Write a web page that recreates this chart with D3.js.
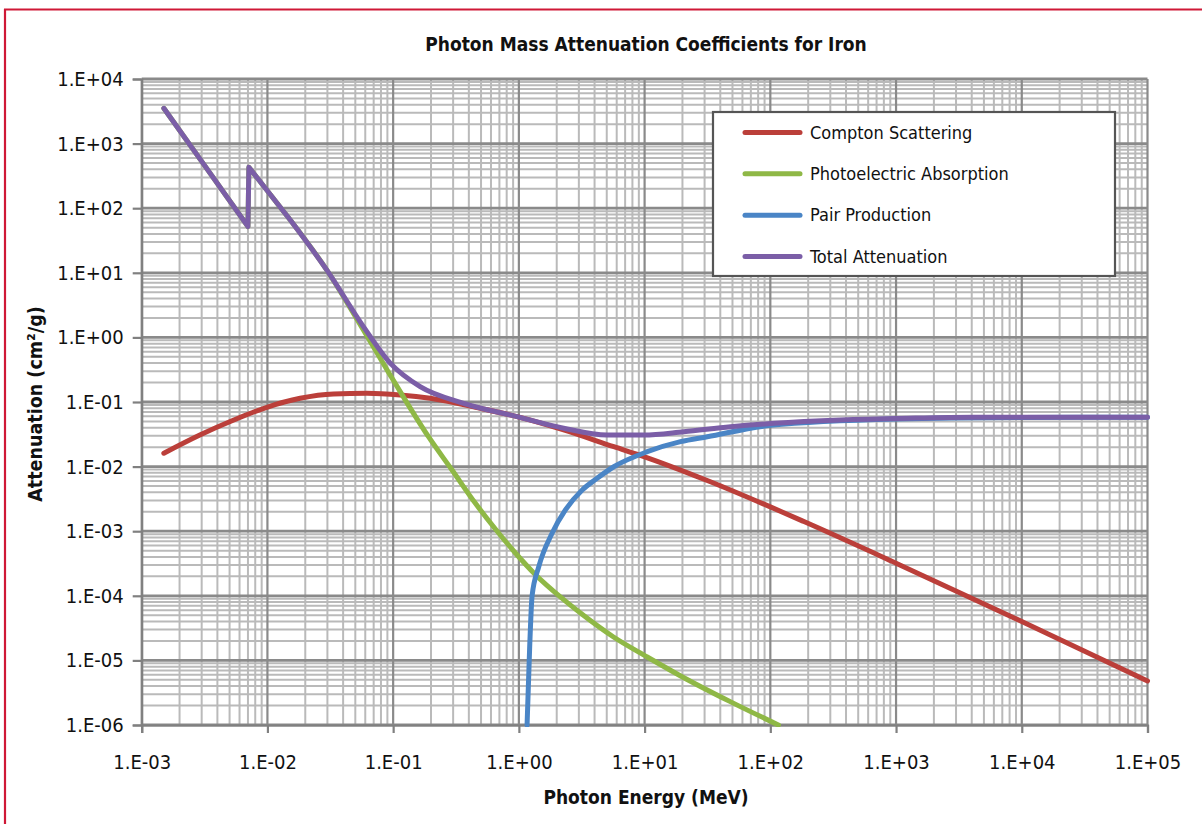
<!DOCTYPE html>
<html>
<head>
<meta charset="utf-8">
<script src="https://cdn.jsdelivr.net/npm/d3@7"></script>
<style>
  html, body { margin: 0; padding: 0; background: #fff; }
  svg { display: block; }
  text { font-family: "DejaVu Sans Condensed", "Liberation Sans Narrow", "Liberation Sans", sans-serif; fill: #111; }
</style>
</head>
<body>
<svg id="chart" width="1202" height="824"></svg>
<script>
// ---------- DATA ----------
const chartTitle = "Photon Mass Attenuation Coefficients for Iron";
const xAxisTitle = "Photon Energy (MeV)";
const yAxisTitle = "Attenuation (cm²/g)";

const seriesNames = ["Compton Scattering", "Photoelectric Absorption", "Pair Production", "Total Attenuation"];

const xTickValues = [1e-3, 1e-2, 1e-1, 1e0, 1e1, 1e2, 1e3, 1e4, 1e5];
const xTickLabels = ["1.E-03", "1.E-02", "1.E-01", "1.E+00", "1.E+01", "1.E+02", "1.E+03", "1.E+04", "1.E+05"];
const yTickValues = [1e-6, 1e-5, 1e-4, 1e-3, 1e-2, 1e-1, 1e0, 1e1, 1e2, 1e3, 1e4];
const yTickLabels = ["1.E-06", "1.E-05", "1.E-04", "1.E-03", "1.E-02", "1.E-01", "1.E+00", "1.E+01", "1.E+02", "1.E+03", "1.E+04"];

// Compton scattering (MeV, cm2/g)
const comptonEnergy = [0.0015, 0.0029, 0.0054, 0.0099, 0.0182, 0.0335, 0.0618, 0.114, 0.197, 0.493, 0.968, 2.27, 5.69, 10, 31.5, 185, 1000, 10000, 100000];
const comptonValue  = [0.0161, 0.0308, 0.0526, 0.0828, 0.114, 0.133, 0.136, 0.128, 0.114, 0.0797, 0.0593, 0.0369, 0.0203, 0.0142, 0.0061, 0.00141, 0.00032, 0.00004, 0.0000048];

// Photoelectric absorption (first 5 points: straight segments incl. the K edge)
const photoEnergy = [0.0015, 0.003, 0.0070, 0.00712, 0.0152, 0.0297, 0.058, 0.0948, 0.125, 0.191, 0.294, 0.451, 0.650, 0.938, 1.35, 2.21, 3.09, 5.66, 10.5, 19.2, 48, 116];
const photoValue  = [3520, 530, 52, 430, 65.6, 11.0, 1.30, 0.26, 0.107, 0.029, 0.00885, 0.0027, 0.00108, 0.00046, 0.000214, 0.000091, 0.000054, 0.000023, 0.0000113, 0.0000058, 0.0000023, 0.000001];

// Pair production
const pairEnergy = [1.162, 1.219, 1.274, 1.438, 1.837, 2.345, 3.19, 4.06, 5.69, 10.5, 19.3, 31.5, 100, 1000, 10000, 100000];
const pairValue  = [0.000001, 0.0000163, 0.0001, 0.00028, 0.00093, 0.00213, 0.00435, 0.0063, 0.00995, 0.017, 0.0243, 0.029, 0.0435, 0.0545, 0.0575, 0.058];

// Total attenuation
const totalEnergy = [0.0015, 0.003, 0.0070, 0.00712, 0.0152, 0.0297, 0.058, 0.0948, 0.164, 0.364, 0.968, 2.27, 5.04, 9.86, 20.5, 48.3, 107, 363, 1233, 4180, 100000];
const totalValue  = [3520, 530, 52, 430, 65.6, 11.0, 1.47, 0.40, 0.173, 0.0955, 0.0593, 0.0392, 0.0308, 0.0308, 0.0347, 0.0415, 0.0468, 0.0526, 0.056, 0.058, 0.058];

const seriesColors = ["#BB3F3A", "#8FB846", "#4A85C6", "#7B5EA7"];
// number of leading points joined with straight segments (absorption edge)
const straightPoints = [0, 5, 0, 5];

// ---------- CHART ----------
const svg = d3.select("#chart");
const W = 1202, H = 824;
const plot = { left: 141.7, right: 1147.5, top: 79, bottom: 725 };

const x = d3.scaleLog().domain([1e-3, 1e5]).range([plot.left, plot.right]);
const y = d3.scaleLog().domain([1e-6, 1e4]).range([plot.bottom, plot.top]);

svg.append("rect").attr("width", W).attr("height", H).attr("fill", "#fff");

// red frame (top + left)
svg.append("line").attr("x1", 4).attr("x2", W).attr("y1", 9.5).attr("y2", 9.5)
  .attr("stroke", "#CF1836").attr("stroke-width", 2.2);
svg.append("line").attr("x1", 5).attr("x2", 5).attr("y1", 9).attr("y2", H)
  .attr("stroke", "#CF1836").attr("stroke-width", 2.2);

// minor grid values
const xMinor = [], yMinor = [];
for (let e = -3; e < 5; e++) for (let k = 2; k <= 9; k++) xMinor.push(k * Math.pow(10, e));
for (let e = -6; e < 4; e++) for (let k = 2; k <= 9; k++) yMinor.push(k * Math.pow(10, e));

const grid = svg.append("g");
grid.selectAll(".ymin").data(yMinor).join("line")
  .attr("x1", plot.left).attr("x2", plot.right)
  .attr("y1", d => y(d)).attr("y2", d => y(d))
  .attr("stroke", "#bababa").attr("stroke-width", 2);
grid.selectAll(".xmin").data(xMinor).join("line")
  .attr("y1", plot.top).attr("y2", plot.bottom)
  .attr("x1", d => x(d)).attr("x2", d => x(d))
  .attr("stroke", "#bababa").attr("stroke-width", 2);
grid.selectAll(".ymaj").data(yTickValues).join("line")
  .attr("x1", plot.left).attr("x2", plot.right)
  .attr("y1", d => y(d)).attr("y2", d => y(d))
  .attr("stroke", "#8a8a8a").attr("stroke-width", 2.8);
grid.selectAll(".xmaj").data(xTickValues).join("line")
  .attr("y1", plot.top).attr("y2", plot.bottom)
  .attr("x1", d => x(d)).attr("x2", d => x(d))
  .attr("stroke", "#8a8a8a").attr("stroke-width", 2.2);

// axes
const yAxis = d3.axisLeft(y).tickValues(yTickValues)
  .tickFormat((d, i) => yTickLabels[i]).tickSize(9).tickPadding(9);
const xAxis = d3.axisBottom(x).tickValues(xTickValues)
  .tickFormat((d, i) => xTickLabels[i]).tickSize(8).tickPadding(22);

const gy = svg.append("g").attr("transform", `translate(${plot.left},0)`).call(yAxis);
const gx = svg.append("g").attr("transform", `translate(0,${plot.bottom})`).call(xAxis);
[gx, gy].forEach(g => {
  g.select(".domain").attr("stroke", "#808080").attr("stroke-width", 2.2);
  g.selectAll(".tick line").attr("stroke", "#808080").attr("stroke-width", 2.2);
  g.selectAll(".tick text").attr("font-size", 20)
    .attr("font-family", '"DejaVu Sans Condensed", "Liberation Sans Narrow", sans-serif')
    .attr("fill", "#111");
});

// series lines
const seriesData = [
  d3.zip(comptonEnergy, comptonValue),
  d3.zip(photoEnergy, photoValue),
  d3.zip(pairEnergy, pairValue),
  d3.zip(totalEnergy, totalValue)
];
const smooth = d3.line().x(d => x(d[0])).y(d => y(d[1])).curve(d3.curveMonotoneX);
const straight = d3.line().x(d => x(d[0])).y(d => y(d[1])).curve(d3.curveLinear);
function seriesPath(d, i) {
  const n = straightPoints[i];
  if (n > 1) return straight(d.slice(0, n)) + smooth(d.slice(n - 1)).replace(/^M/, "L");
  return smooth(d);
}
svg.append("clipPath").attr("id", "clip")
  .append("rect").attr("x", plot.left - 10).attr("y", plot.top - 10)
  .attr("width", plot.right - plot.left + 20).attr("height", plot.bottom - plot.top + 12);
svg.append("g").attr("clip-path", "url(#clip)")
  .selectAll("path").data(seriesData).join("path")
  .attr("d", seriesPath)
  .attr("fill", "none")
  .attr("stroke", (d, i) => seriesColors[i])
  .attr("stroke-width", 5)
  .attr("stroke-linecap", "round")
  .attr("stroke-linejoin", "round");

// title
svg.append("text").attr("x", 646).attr("y", 51).attr("text-anchor", "middle")
  .attr("font-size", 19).attr("font-weight", "bold").text(chartTitle);
// x axis title
svg.append("text").attr("x", 646).attr("y", 804).attr("text-anchor", "middle")
  .attr("font-size", 19).attr("font-weight", "bold").text(xAxisTitle);
// y axis title
svg.append("text").attr("transform", "translate(42,404) rotate(-90)").attr("text-anchor", "middle")
  .attr("font-size", 19.5).attr("font-weight", "bold").text(yAxisTitle);

// legend
const lg = svg.append("g");
lg.append("rect").attr("x", 713).attr("y", 112).attr("width", 402).attr("height", 164)
  .attr("fill", "#fff").attr("stroke", "#555").attr("stroke-width", 2.2);
const rowY = d3.scalePoint().domain(seriesNames).range([132.5, 256.5]);
const items = lg.selectAll(".item").data(seriesNames).join("g");
items.append("line").attr("x1", 745).attr("x2", 800)
  .attr("y1", d => rowY(d)).attr("y2", d => rowY(d))
  .attr("stroke", (d, i) => seriesColors[i]).attr("stroke-width", 5).attr("stroke-linecap", "round");
items.append("text").attr("x", 810).attr("y", d => rowY(d)).attr("dy", "0.35em")
  .attr("font-size", 18).text(d => d);
</script>
</body>
</html>
